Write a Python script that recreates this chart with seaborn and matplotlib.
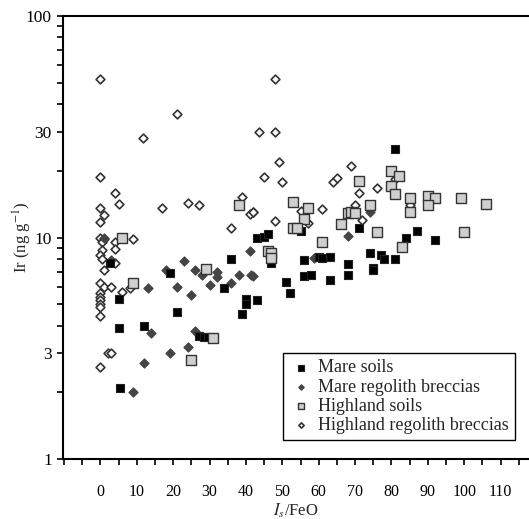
import pandas as pd
import matplotlib.pyplot as plt
import seaborn as sns
from matplotlib.ticker import FixedLocator, NullFormatter

# Ir vs Is/FeO data
mare_soil_x = [81, 55, 43, 45, 46, 71, 87, 84, 92, 47, 56, 60, 61, 63, 68, 74, 77, 78, 81, 75,
               51, 52, 43, 56, 58, 63, 68, 75, 36, 19, 34, 5, 40, 40, 39, 21, 5, 12, 27, 28.5,
               29.5, 5.5, 2.5]
mare_soil_y = [25, 10.7, 10, 10.1, 10.4, 11, 10.7, 9.9, 9.7, 7.7, 7.9, 8.2, 8.1, 8.2, 7.6, 8.5, 8.3, 8.0, 8.0, 7.3,
               6.3, 5.6, 5.2, 6.7, 6.8, 6.4, 6.8, 7.1, 8.0, 6.9, 5.9, 5.3, 5.3, 5.0, 4.5, 4.6, 3.9, 4.0, 3.6, 3.55,
               3.55, 2.1, 7.7]

mare_breccia_x = [74, 68, 41, 58.7, 41.5, 1, 3, 23, 18, 26, 28, 32, 32, 38, 42, 36, 30, 21, 13, 25,
                  14, 26, 24, 19, 12, 9]
mare_breccia_y = [13, 10.2, 8.7, 8.1, 6.8, 9.9, 7.9, 7.8, 7.1, 7.1, 6.8, 7.0, 6.6, 6.8, 6.7, 6.2, 6.1, 6.0, 5.9, 5.5,
                  3.7, 3.8, 3.2, 3.0, 2.7, 2.0]

highland_soil_x = [80, 82, 80, 81, 71, 85, 90, 92, 90, 99, 106, 85, 100, 53, 57, 56, 53, 54, 68, 69,
                   70, 74, 66, 76, 83, 61, 46, 47, 47, 38, 6, 29, 9, 31, 25]
highland_soil_y = [20, 19, 17, 15.7, 18, 15, 15.4, 15, 14, 15, 14.2, 13, 10.6, 14.5, 13.6, 12.1, 11, 11, 12.9, 13,
                   12.9, 14, 11.5, 10.6, 9.1, 9.5, 8.7, 8.5, 8.1, 14, 10, 7.2, 6.2, 3.5, 2.8]

highland_breccia_x = [0, 48, 21, 11.8, 43.5, 48, 0, 4, 39, 49, 45, 50, 69, 64, 65, 81, 71, 76, 85, 55,
                      42, 61, 57, 48, 70, 72, 0, 1, 0, 5, 17, 24, 27, 41, 42, 36, 0, 1, 0.5, 4,
                      9, 4, 0.5, 0, 0.5, 4, 1, 0, 1, 3, 6, 8, 0, 0, 0, 0, 0, 0, 2, 3, 0]
highland_breccia_y = [52, 52, 36, 28, 30, 30, 18.7, 15.9, 15.2, 22, 18.8, 17.8, 21, 17.8, 18.6, 18.3, 15.9, 16.7, 14, 13.2,
                      13, 13.5, 11.6, 11.9, 14, 12, 13.6, 12.6, 11.8, 14.2, 13.6, 14.3, 14, 12.8, 13, 11, 10, 9.8, 9.5, 9.5,
                      9.8, 8.9, 8.8, 8.3, 8.0, 7.7, 7.1, 6.2, 6.0, 6.0, 5.7, 5.9, 5.6, 5.4, 5.2, 5.0, 4.85, 4.4, 3.0, 3.0, 2.6]

groups = ["Mare soils", "Mare regolith breccias", "Highland soils", "Highland regolith breccias"]

df = pd.concat([
    pd.DataFrame({"x": mare_soil_x, "y": mare_soil_y, "group": groups[0]}),
    pd.DataFrame({"x": mare_breccia_x, "y": mare_breccia_y, "group": groups[1]}),
    pd.DataFrame({"x": highland_soil_x, "y": highland_soil_y, "group": groups[2]}),
    pd.DataFrame({"x": highland_breccia_x, "y": highland_breccia_y, "group": groups[3]}),
])

sns.set_style("ticks")
plt.rcParams["font.family"] = ["Liberation Serif", "DejaVu Serif"]
plt.rcParams["mathtext.fontset"] = "stix"

styles = {
    groups[0]: dict(marker="s", s=40, color="black", edgecolor="#222222", linewidth=0.8),
    groups[1]: dict(marker="D", s=22, color="#444444", edgecolor="#444444", linewidth=0.8),
    groups[2]: dict(marker="s", s=42, color="#cfcfcf", edgecolor="#333333", linewidth=1.0),
    groups[3]: dict(marker="D", s=20, color="white", edgecolor="#333333", linewidth=1.2),
}

fig = plt.figure(figsize=(5.29, 5.19), dpi=100)
ax = fig.add_axes([63 / 529, 1 - 459 / 519, 1 - 63 / 529, (459 - 16) / 519])

# draw in order so highland breccias sit on top like the original
for g in [groups[3], groups[1], groups[0], groups[2]]:
    sns.scatterplot(data=df[df["group"] == g], x="x", y="y", ax=ax, label=g, zorder=3, **styles[g])

ax.set_yscale("log")
ax.set_ylim(1, 100)
ax.set_xlim(-10.3, 117.8)

ax.yaxis.set_major_locator(FixedLocator([1, 3, 10, 30, 100]))
ax.set_yticklabels(["1", "3", "10", "30", "100"])
ax.yaxis.set_minor_locator(FixedLocator([2, 4, 5, 6, 7, 8, 9, 20, 40, 50, 60, 70, 80, 90]))
ax.yaxis.set_minor_formatter(NullFormatter())

ax.xaxis.set_major_locator(FixedLocator(list(range(0, 111, 10))))
ax.xaxis.set_minor_locator(FixedLocator(list(range(-10, 116, 5))))

ax.tick_params(axis="both", which="both", direction="out", length=4, width=1.2, colors="black")
ax.tick_params(axis="x", which="major", labelsize=11.5, pad=14)
ax.tick_params(axis="y", which="major", labelsize=12.5, pad=4)

for side in ["left", "bottom", "top"]:
    ax.spines[side].set_linewidth(1.5)
    ax.spines[side].set_color("black")
ax.spines["right"].set_visible(False)

ax.set_xlabel("$I_s$/FeO", fontsize=12, labelpad=1)
ax.set_ylabel("Ir (ng g$^{-1}$)", fontsize=12)
ax.yaxis.set_label_coords(-0.063, 0.5)

handles, labels = ax.get_legend_handles_labels()
order = [labels.index(g) for g in groups]
leg = ax.legend([handles[i] for i in order], [labels[i] for i in order],
                loc="lower right", bbox_to_anchor=(0.99, 0.022), fontsize=13,
                frameon=True, fancybox=False, edgecolor="black", framealpha=1,
                handletextpad=0.3, labelspacing=0.12, borderpad=0.35, markerscale=0.6,
                handlelength=1.3)
leg.get_frame().set_linewidth(1.0)

plt.savefig("out.png", dpi=100)
plt.close()
